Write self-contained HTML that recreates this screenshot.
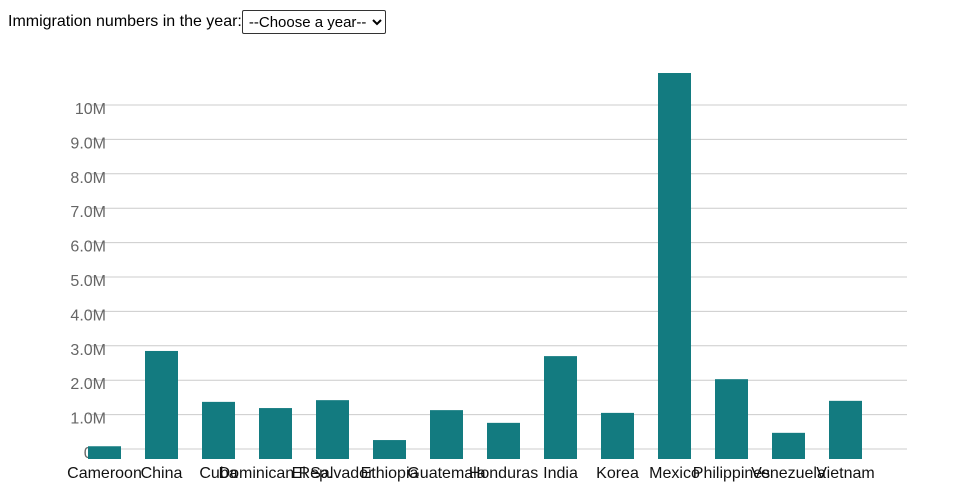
<!DOCTYPE html>
<html><head><meta charset="utf-8"><style>
body{margin:0;background:#fff;font-family:"Liberation Sans",sans-serif;}
#hdr{position:absolute;left:8px;top:10px;font-size:16px;color:#000;display:flex;align-items:center;}
select{font-family:"Liberation Sans",sans-serif;font-size:15px;height:24px;border:1px solid #333;border-radius:2px;background:#fff;padding:0 2px;}
svg{position:absolute;left:0;top:0;}
</style></head><body>
<div id="hdr"><span>Immigration numbers in the year:</span><select><option>--Choose a year--</option></select></div>
<svg id="chart" width="960" height="500"></svg>
<script>
const categories=["Cameroon","China","Cuba","Dominican Rep.","El Salvador","Ethiopia","Guatemala","Honduras","India","Korea","Mexico","Philippines","Venezuela","Vietnam"];
const values=[0.08e6,2.85e6,1.37e6,1.19e6,1.42e6,0.26e6,1.13e6,0.76e6,2.70e6,1.05e6,10.93e6,2.03e6,0.47e6,1.40e6];
const tickValues=[0,1e6,2e6,3e6,4e6,5e6,6e6,7e6,8e6,9e6,10e6];
const tickLabels=["0.0","1.0M","2.0M","3.0M","4.0M","5.0M","6.0M","7.0M","8.0M","9.0M","10M"];
const NS="http://www.w3.org/2000/svg";
const svg=document.getElementById('chart');
const y0=449,pxPerM=34.4,left=88,right=907,step=57,bw=33;
const y=v=>y0-v/1e6*pxPerM;
const x=i=>left+i*step;
function mk(t,a){const e=document.createElementNS(NS,t);for(const k in a)e.setAttribute(k,a[k]);svg.appendChild(e);return e;}
tickValues.forEach((v,i)=>{
 const l=mk('line',{x1:left,x2:right,y1:y(v),y2:y(v),stroke:'#ccc','stroke-width':1});
 
 
 const t=mk('text',{x:106,y:y(v)+9,'text-anchor':'end','font-size':16,fill:'#666'});
 t.textContent=tickLabels[i];
 
 
});
categories.forEach((c,i)=>{
 const r=mk('rect',{x:x(i),y:y(values[i]),width:bw,height:459-y(values[i]),fill:'#137b80'});
 
 
 const t=mk('text',{x:x(i)+bw/2,y:478,'text-anchor':'middle','font-size':16,fill:'#111'});
 t.textContent=c;
 
 
});
</script>
</body></html>
